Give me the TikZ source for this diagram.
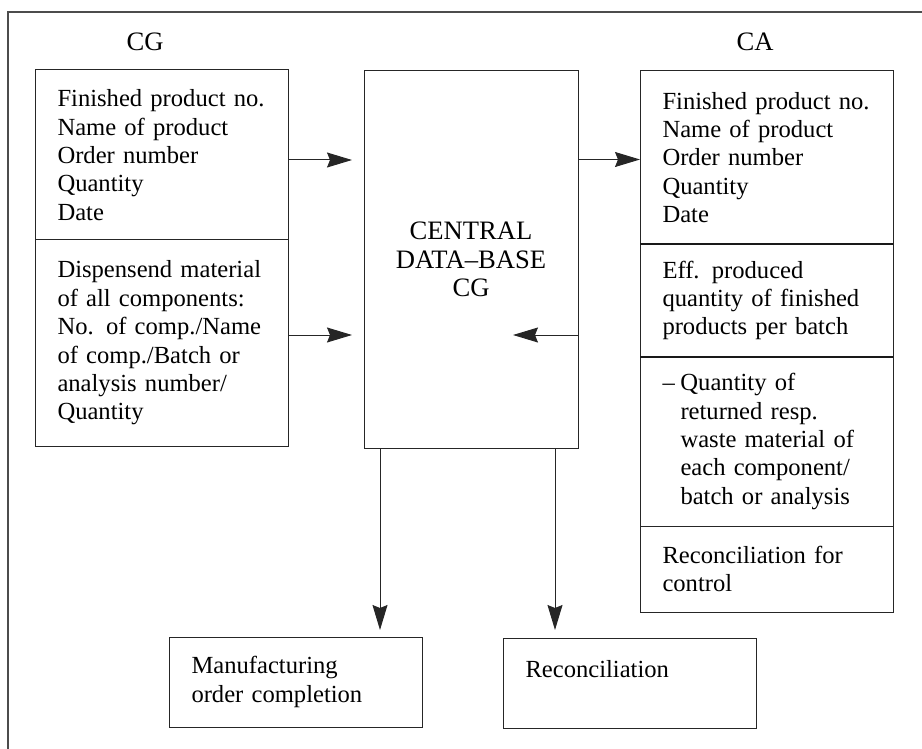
\documentclass[tikz,border=0pt]{standalone}
\usepackage{fontspec}
\setmainfont{Liberation Serif}
\usepackage{tikz}
\usetikzlibrary{positioning,arrows.meta}

\tikzset{
  txt/.style={font=\fontsize{24.6pt}{28.4pt}\selectfont},
  captxt/.style={font=\fontsize{26.6pt}{28.2pt}\selectfont},
  secbox/.style={txt, draw=black!85, line width=1pt, align=left, text width=208pt,
    inner xsep=22.5pt, inner ysep=0pt, outer sep=0pt, anchor=north west},
  centralbox/.style={captxt, draw=black!85, line width=1pt, align=center,
    minimum width=214pt, minimum height=377pt, outer sep=0pt, anchor=north west},
  arr/.style={draw=black!85, line width=1pt, -{Stealth[length=25pt,width=15pt,inset=3pt]}},
  thickline/.style={draw=black!90, line width=2.6pt}
}

\begin{document}
\begin{tikzpicture}[x=1pt, y=-1pt]
  \useasboundingbox (0,0) rectangle (922,749);
  % outer frame of the page
  \draw[black!70, line width=1.2pt] (922,12) -- (8,12) -- (8,749);

  \node[captxt] (cglab) at (145,42) {CG};
  \node[captxt] (calab) at (755,42) {CA};

  % left column
  \node[secbox, minimum height=170pt] (cg1) at (35,70)
    {Finished product no.\\Name of product\\Order number\\Quantity\\Date};
  \node[secbox, minimum height=206pt, below=0pt of cg1] (cg2)
    {Dispensend material\\of all components:\\No. of comp./Name\\of comp./Batch or\\analysis number/\\Quantity};

  % central data base
  \node[centralbox] (cdb) at (364,71) {CENTRAL\\DATA--BASE\\CG};

  % right column
  \node[secbox, minimum height=173pt] (ca1) at (640,71)
    {Finished product no.\\Name of product\\Order number\\Quantity\\Date};
  \node[secbox, minimum height=113pt, below=0pt of ca1] (ca2)
    {Eff. produced\\quantity of finished\\products per batch};
  \node[secbox, minimum height=169pt, below=0pt of ca2] (ca3)
    {\makebox[18pt][l]{--}Quantity of\\\hspace*{18pt}returned resp.\\\hspace*{18pt}waste material of\\\hspace*{18pt}each component/\\\hspace*{18pt}batch or analysis};
  \node[secbox, minimum height=86pt, below=0pt of ca3] (ca4)
    {Reconciliation for\\control};
  \draw[thickline] (ca1.south west) -- (ca1.south east);
  \draw[thickline] (ca2.south west) -- (ca2.south east);

  % bottom boxes
  \node[secbox, minimum height=90pt] (mfg) at (169,637)
    {Manufacturing\\order completion};
  \node[secbox, minimum height=90pt] (rec) at (503,638)
    {Reconciliation\\\mbox{}};

  % arrows
  \draw[arr, shorten >=12pt] ([yshift=-5pt]cg1.east) -- ([yshift=-5pt]cg1.east -| cdb.west);
  \draw[arr, shorten >=12pt] ([yshift=8pt]cg2.east) -- ([yshift=8pt]cg2.east -| cdb.west);
  \draw[arr] ([yshift=-2pt]ca1.west -| cdb.east) -- ([yshift=-2pt]ca1.west);
  \draw[arr] ([yshift=-75.5pt]cdb.east) -- ++(-65,0);
  \draw[arr, shorten >=7pt] ([xshift=16pt]cdb.south west) -- ([xshift=16pt]cdb.south west |- mfg.north);
  \draw[arr, shorten >=8pt] ([xshift=-23pt]cdb.south east) -- ([xshift=-23pt]cdb.south east |- rec.north);
\end{tikzpicture}
\end{document}
